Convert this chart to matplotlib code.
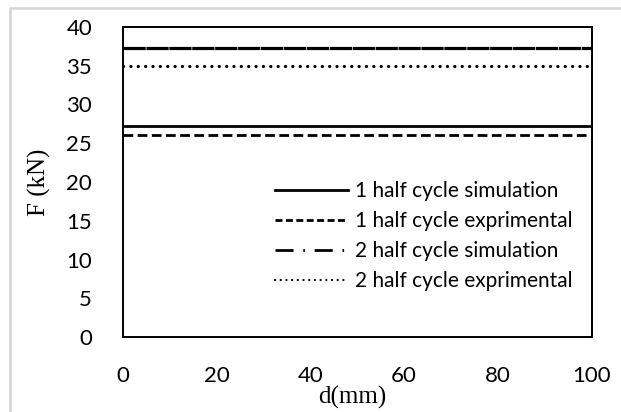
import numpy as np
import matplotlib
matplotlib.use("Agg")
import matplotlib.pyplot as plt
from matplotlib.lines import Line2D
from matplotlib.patches import Rectangle

# displacement range and force levels for each test case
d_mm = [0, 100]
f_1half_sim = [27.2, 27.2]
f_1half_exp = [26.0, 26.0]
f_2half_sim = [37.2, 37.2]
f_2half_exp = [35.0, 35.0]
labels = [
    "1 half cycle simulation",
    "1 half cycle exprimental",
    "2 half cycle simulation",
    "2 half cycle exprimental",
]
x_ticks = [0, 20, 40, 60, 80, 100]
y_ticks = [0, 5, 10, 15, 20, 25, 30, 35, 40]

plt.rcParams["lines.scale_dashes"] = False
tick_font = "Lato"
label_font = "Liberation Serif"

fig = plt.figure(figsize=(6.21, 4.12), dpi=100)
ax = fig.add_axes([0.1976, 0.1813, 0.7552, 0.7539])

# light grey frame of the chart area (top and left edges only)
fig.patches.append(
    Rectangle((9.5 / 621, -0.1), 1.2, 1.1 - 8 / 412, transform=fig.transFigure,
              fill=False, edgecolor="#d4d4d4", linewidth=1.8)
)

ax.plot(d_mm, f_1half_sim, color="black", linewidth=2.0, linestyle="-")
ax.plot(d_mm, f_1half_exp, color="black", linewidth=2.0, linestyle=(0, (7.0, 3.2)))
ax.plot(d_mm, f_2half_sim, color="black", linewidth=2.3, linestyle=(0, (16.0, 0.5)))
ax.plot(d_mm, f_2half_exp, color="black", linewidth=2.3, linestyle=(0, (0.1, 5.2)),
        dash_capstyle="round")

ax.set_xlim(0, 100)
ax.set_ylim(0, 40)
ax.set_xticks(x_ticks)
ax.set_yticks(y_ticks)
ax.tick_params(length=0, labelsize=16)
ax.tick_params(axis="x", pad=21)
ax.tick_params(axis="y", pad=22)
for lab in ax.get_xticklabels() + ax.get_yticklabels():
    lab.set_fontfamily(tick_font)
for sp in ax.spines.values():
    sp.set_linewidth(1.4)
    sp.set_color("black")

ax.set_xlabel("d(mm)", fontfamily=label_font, fontsize=18)
ax.xaxis.set_label_coords(0.489, -0.155)
ax.set_ylabel("F (kN)", fontfamily=label_font, fontsize=18)
ax.yaxis.set_label_coords(-0.152, 0.5)

handles = [
    Line2D([], [], color="black", linewidth=2.0, linestyle="-"),
    Line2D([], [], color="black", linewidth=2.0, linestyle=(0, (5.0, 2.5))),
    Line2D([], [], color="black", linewidth=2.0, linestyle=(0, (13.0, 7.0, 1.2, 7.0))),
    Line2D([], [], color="black", linewidth=1.6, linestyle=(0, (0.1, 4.0)),
           dash_capstyle="round"),
]
ax.legend(handles, labels, loc="upper left", bbox_to_anchor=(265 / 621, 1 - 171 / 412),
          bbox_transform=fig.transFigure, frameon=False, borderpad=0,
          handlelength=3.5, handletextpad=0.3, labelspacing=0.48,
          prop={"family": tick_font, "size": 15})

fig.savefig("out.png", dpi=100)
